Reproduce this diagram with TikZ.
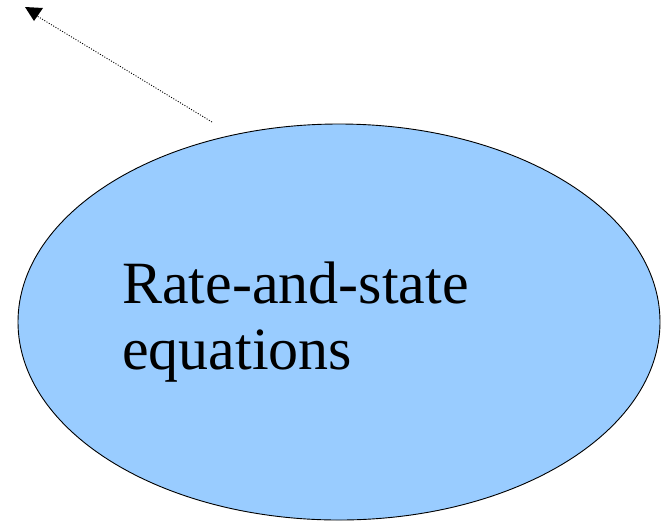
\documentclass[tikz,border=0pt]{standalone}
\usepackage{fontspec}
\setmainfont{Liberation Serif}
\usetikzlibrary{shapes.geometric}
\tikzset{
  blob/.style={ellipse, draw=black, line width=0.9pt, fill=blobblue, minimum width=642pt, minimum height=396pt, inner sep=0pt},
  label/.style={anchor=base west, inner sep=0pt, font=\fontsize{60}{66}\selectfont},
  dotline/.style={draw=black, line width=0.9pt, dash pattern=on 1pt off 1.6pt},
}
\definecolor{blobblue}{HTML}{99CCFF}
\begin{document}
\begin{tikzpicture}[x=1pt,y=-1pt]
\useasboundingbox (0,0) rectangle (666,523);
\node[blob] (e) at (339,322) {};
\node[label] (t1) at (122,303) {Rate-and-state};
\node[label] (t2) at (122,369) {equations};
\coordinate (s) at (212,122);
\coordinate (h) at (37,16);
\draw[dotline] (s) -- (h);
\fill[black] (25,7) -- (43,8) -- (34,21) -- cycle;
\end{tikzpicture}
\end{document}
